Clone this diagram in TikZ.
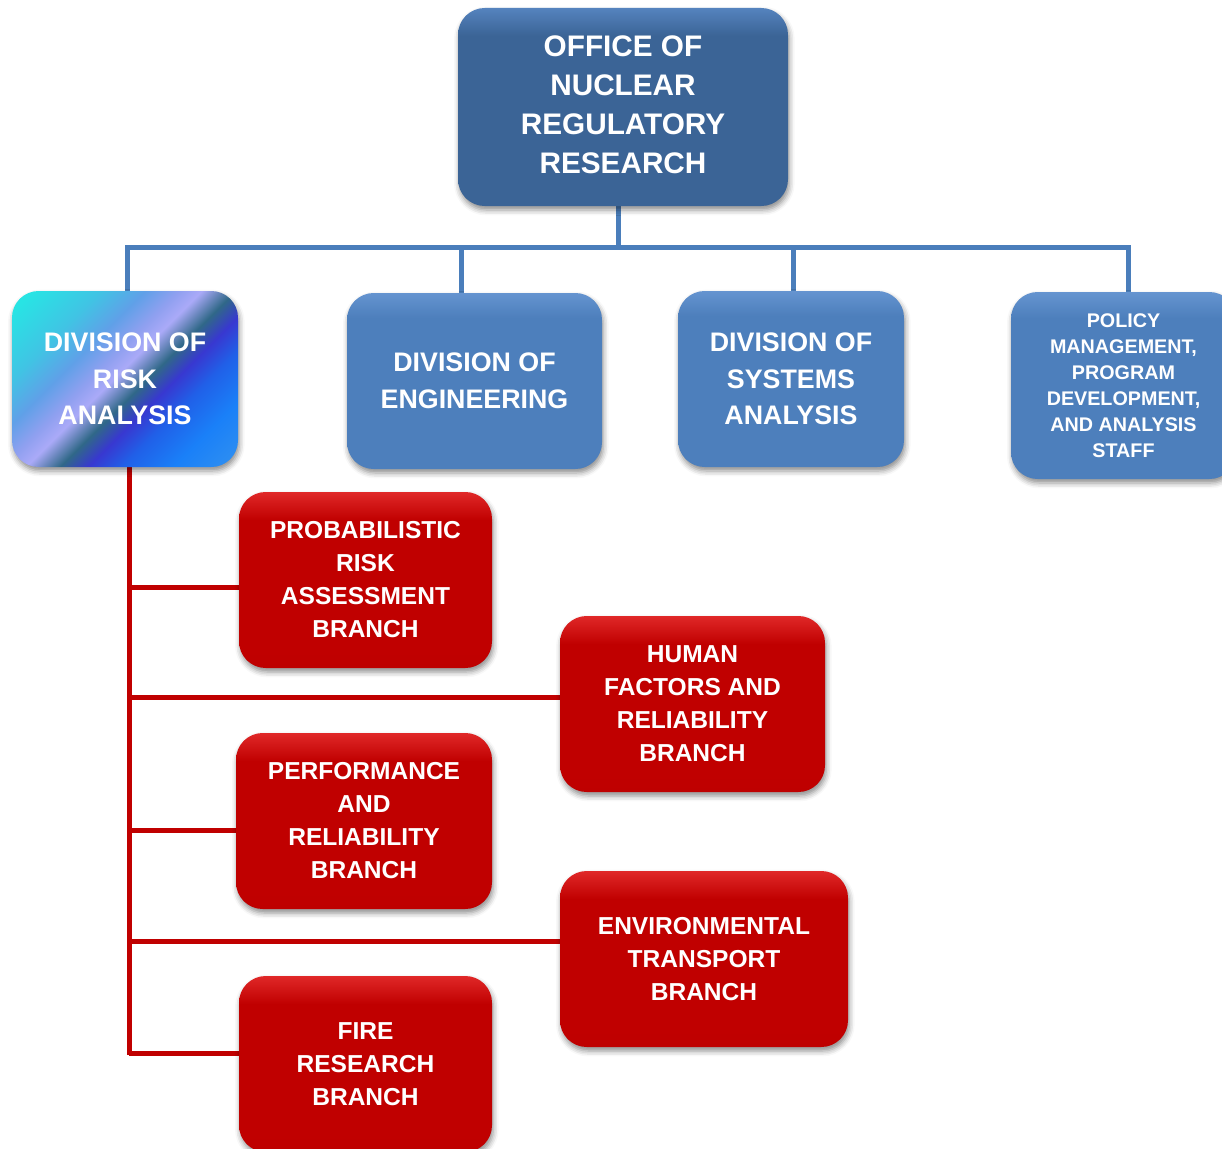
\documentclass[tikz,border=0pt]{standalone}
\usepackage{fontspec}
\setmainfont{Liberation Sans}
\usetikzlibrary{shadows.blur}
\pgfdeclarelayer{bg}
\pgfsetlayers{bg,main}
\definecolor{offmain}{HTML}{3B6496}
\definecolor{offtop}{HTML}{5583BE}
\definecolor{bmain}{HTML}{4D7FBC}
\definecolor{btop}{HTML}{6594D0}
\definecolor{rmain}{HTML}{C00000}
\definecolor{rtop}{HTML}{E02828}
\definecolor{rbot}{HTML}{B40000}
\definecolor{linkblue}{HTML}{4A7EBB}
\definecolor{linkred}{HTML}{C00000}
\definecolor{k1}{HTML}{28E4E4}
\definecolor{k2}{HTML}{40C4E4}
\definecolor{k3}{HTML}{60A0E8}
\definecolor{k4}{HTML}{90A0F0}
\definecolor{k5}{HTML}{AAAAF8}
\definecolor{k6}{HTML}{306888}
\definecolor{k7}{HTML}{3838D0}
\definecolor{k8}{HTML}{2060E8}
\definecolor{k9}{HTML}{1A80F8}
\definecolor{k10}{HTML}{3090F0}
\pgfdeclareverticalshading{officesh}{100bp}{color(0bp)=(offmain); color(68bp)=(offmain); color(75bp)=(offtop); color(100bp)=(offtop)}
\pgfdeclareverticalshading{bluesh}{100bp}{color(0bp)=(bmain); color(68bp)=(bmain); color(75bp)=(btop); color(100bp)=(btop)}
\pgfdeclareverticalshading{redsh}{100bp}{color(0bp)=(rbot); color(30bp)=(rmain); color(67bp)=(rmain); color(75bp)=(rtop); color(100bp)=(rtop)}
\pgfdeclarehorizontalshading{riskshade}{100bp}{color(0bp)=(k1); color(18bp)=(k1); color(30bp)=(k2); color(38bp)=(k3); color(44bp)=(k4); color(48bp)=(k5); color(54bp)=(k6); color(59bp)=(k7); color(65bp)=(k8); color(74bp)=(k9); color(85bp)=(k10); color(100bp)=(k10)}
\newcommand\officefnt{\bfseries\fontsize{22.3}{29.25}\selectfont}
\newcommand\divfnt{\bfseries\fontsize{20.1}{27.4}\selectfont}
\newcommand\redfnt{\bfseries\fontsize{18.4}{24.75}\selectfont}
\newcommand\polfnt{\bfseries\fontsize{14.8}{19.5}\selectfont}
\tikzset{
  box/.style={rectangle, rounded corners=20pt, align=center, text=white, inner sep=0pt,
    blur shadow={shadow xshift=1pt, shadow yshift=-3pt, shadow blur radius=4pt, shadow opacity=45}},
  officebox/.style={box, shading=officesh, font=\officefnt},
  divbox/.style={box, shading=bluesh, font=\divfnt},
  polbox/.style={box, shading=bluesh, font=\polfnt},
  riskbox/.style={box, shading=riskshade, shading angle=-45, font=\divfnt},
  redbox/.style={box, shading=redsh, font=\redfnt},
  bluelink/.style={draw=linkblue, line width=3.75pt},
  redlink/.style={draw=linkred, line width=3.75pt}
}
\begin{document}
\begin{tikzpicture}[x=0.75pt,y=-0.75pt]
\useasboundingbox (0,0) rectangle (1222,1149);
\node[officebox, minimum width=247.5pt, minimum height=148.5pt] (office) at (623,107) {\raisebox{2pt}{\begin{tabular}{@{}c@{}}OFFICE OF\\NUCLEAR\\REGULATORY\\RESEARCH\end{tabular}}};
\node[riskbox, minimum width=169.5pt, minimum height=132pt] (risk) at (125,379) {DIVISION OF\\RISK\\ANALYSIS};
\node[divbox, minimum width=191.25pt, minimum height=132pt] (eng) at (474.5,381) {DIVISION OF\\ENGINEERING};
\node[divbox, minimum width=169.5pt, minimum height=132pt] (sys) at (791,379) {DIVISION OF\\SYSTEMS\\ANALYSIS};
\node[polbox, minimum width=168.75pt, minimum height=140.25pt] (policy) at (1123.5,385.5) {POLICY\\MANAGEMENT,\\PROGRAM\\DEVELOPMENT,\\AND ANALYSIS\\STAFF};
\node[redbox, minimum width=189.75pt, minimum height=132pt] (pra) at (365.5,580) {PROBABILISTIC\\RISK\\ASSESSMENT\\BRANCH};
\node[redbox, minimum width=198.75pt, minimum height=132pt] (human) at (692.5,704) {HUMAN\\FACTORS AND\\RELIABILITY\\BRANCH};
\node[redbox, minimum width=192pt, minimum height=132pt] (perf) at (364,821) {PERFORMANCE\\AND\\RELIABILITY\\BRANCH};
\node[redbox, minimum width=216pt, minimum height=132pt] (env) at (704,959) {ENVIRONMENTAL\\TRANSPORT\\BRANCH};
\node[redbox, minimum width=189.75pt, minimum height=132pt] (fire) at (365.5,1064) {FIRE\\RESEARCH\\BRANCH};
\begin{pgfonlayer}{bg}
  \coordinate (bar) at (618,247);
  \coordinate (b1) at (127,247);
  \coordinate (b2) at (461,247);
  \coordinate (b3) at (793,247);
  \coordinate (b4) at (1128,247);
  \draw[bluelink] (bar |- office.south) -- (bar);
  \draw[bluelink] (b1 |- risk.north) -- (b1) -- (b4) -- (b4 |- policy.north);
  \draw[bluelink] (b2) -- (b2 |- eng.north);
  \draw[bluelink] (b3) -- (b3 |- sys.north);
  \coordinate (sp) at (129,1055);
  \coordinate (r1) at (129,587);
  \coordinate (r2) at (129,697);
  \coordinate (r3) at (129,830);
  \coordinate (r4) at (129,941);
  \coordinate (r5) at (129,1053);
  \draw[redlink] (sp |- risk.south) -- (sp);
  \draw[redlink] (r1) -- (r1 -| pra.west);
  \draw[redlink] (r2) -- (r2 -| human.west);
  \draw[redlink] (r3) -- (r3 -| perf.west);
  \draw[redlink] (r4) -- (r4 -| env.west);
  \draw[redlink] (r5) -- (r5 -| fire.west);
\end{pgfonlayer}
\end{tikzpicture}
\end{document}
